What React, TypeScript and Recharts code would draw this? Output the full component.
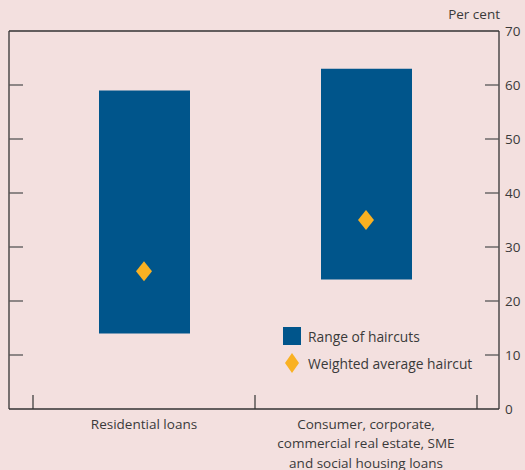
import React from 'react';
import { ComposedChart, Bar, Scatter, XAxis, YAxis, ReferenceLine } from 'recharts';

const categories = ['Residential loans', 'Consumer, corporate,\ncommercial real estate, SME\nand social housing loans'];
const rangeLow = [14, 24];
const rangeHigh = [59, 63];
const weightedAvg = [25.5, 35];
const yTicks = [0, 10, 20, 30, 40, 50, 60, 70];

const BG = '#F3E0DF';
const BLUE = '#00558B';
const GOLD = '#F9B122';
const INK = '#3a3a3a';
const FONT = '"Open Sans", "Noto Sans", sans-serif';

const data = categories.map((name, i) => ({
  name,
  range: [rangeLow[i], rangeHigh[i]],
  avg: weightedAvg[i],
}));

const Diamond = (props: any) => {
  const { cx, cy } = props;
  if (cx == null || cy == null) return null;
  return <polygon points={`${cx},${cy - 10} ${cx + 8},${cy} ${cx},${cy + 10} ${cx - 8},${cy}`} fill={GOLD} />;
};

const RightTick = ({ x, y, payload }: any) => {
  const v = payload.value;
  const inner = v !== 0 && v !== 70;
  return (
    <g>
      {inner && <line x1={x - 20} x2={x - 6} y1={y} y2={y} stroke="#555" strokeWidth={1.3} />}
      <text x={x} y={y} dy={5} textAnchor="start" fontSize={13.5} fill={INK} fontFamily={FONT}>
        {v}
      </text>
    </g>
  );
};

// left axis: inward tick marks only
const LeftTick = ({ x, y, payload }: any) => {
  const v = payload.value;
  const inner = v !== 0 && v !== 70;
  return (
    <g>
      {inner && <line x1={x} x2={x + 14} y1={y} y2={y} stroke="#555" strokeWidth={1.3} />}
    </g>
  );
};

const XTick = (props: any) => {
  const { x, y, payload, index, visibleTicksCount } = props;
  const off = payload.offset || 111;
  const lines = String(payload.value).split('\n');
  const last = index === (visibleTicksCount ?? categories.length) - 1;
  return (
    <g>
      <line x1={x - off} x2={x - off} y1={y} y2={y - 14} stroke="#333" strokeWidth={1.2} />
      {last && <line x1={x + off} x2={x + off} y1={y} y2={y - 14} stroke="#333" strokeWidth={1.2} />}
      <text x={x} y={y} textAnchor="middle" fontSize={13.5} fill={INK} fontFamily={FONT}>
        {lines.map((l, i) => (
          <tspan key={i} x={x} dy={i === 0 ? 19.5 : 19.5}>
            {l}
          </tspan>
        ))}
      </text>
    </g>
  );
};

const LegendBox = () => (
  <div style={{ position: 'absolute', left: 283, top: 326, fontFamily: FONT, fontSize: 13.8, color: INK }}>
    <div style={{ display: 'flex', alignItems: 'center', height: 20 }}>
      <div style={{ width: 18, height: 18, background: BLUE, marginRight: 7 }} />
      <span>Range of haircuts</span>
    </div>
    <div style={{ display: 'flex', alignItems: 'center', height: 20, marginTop: 7 }}>
      <svg width={18} height={20} style={{ marginRight: 7 }}>
        <polygon points="9,0 16,10 9,20 2,10" fill={GOLD} />
      </svg>
      <span>Weighted average haircut</span>
    </div>
  </div>
);

export default function App() {
  return (
    <div style={{ position: 'fixed', left: 0, top: 0, width: 525, height: 470, background: BG }}>
      <div
        style={{
          position: 'absolute',
          right: 25,
          top: 5,
          fontFamily: FONT,
          fontSize: 13.5,
          color: INK,
        }}
      >
        Per cent
      </div>
      <ComposedChart width={525} height={470} data={data} margin={{ top: 31, right: 0, bottom: 1, left: -21 }}>
        <XAxis
          dataKey="name"
          xAxisId="x"
          padding={{ left: 24, right: 22 }}
          tickLine={false}
          tickSize={0}
          tickMargin={0}
          height={60}
          interval={0}
          axisLine={{ stroke: '#333', strokeWidth: 1.3 }}
          tick={<XTick />}
        />
        <YAxis
          yAxisId="l"
          orientation="left"
          width={30}
          domain={[0, 70]}
          ticks={yTicks}
          interval={0}
          tickLine={false}
          tickSize={0}
          tickMargin={0}
          axisLine={{ stroke: '#333', strokeWidth: 1.3 }}
          tick={<LeftTick />}
        />
        <YAxis
          yAxisId="r"
          orientation="right"
          width={26}
          domain={[0, 70]}
          ticks={yTicks}
          interval={0}
          tickLine={false}
          tickSize={0}
          tickMargin={6}
          axisLine={{ stroke: '#333', strokeWidth: 1.3 }}
          tick={<RightTick />}
        />
        <ReferenceLine y={70} xAxisId="x" yAxisId="r" stroke="#333" strokeWidth={1.3} />
        <Bar dataKey="range" xAxisId="x" yAxisId="r" fill={BLUE} barSize={91} isAnimationActive={false} />
        <Scatter dataKey="avg" xAxisId="x" yAxisId="l" shape={<Diamond />} isAnimationActive={false} />
      </ComposedChart>
      <LegendBox />
    </div>
  );
}
